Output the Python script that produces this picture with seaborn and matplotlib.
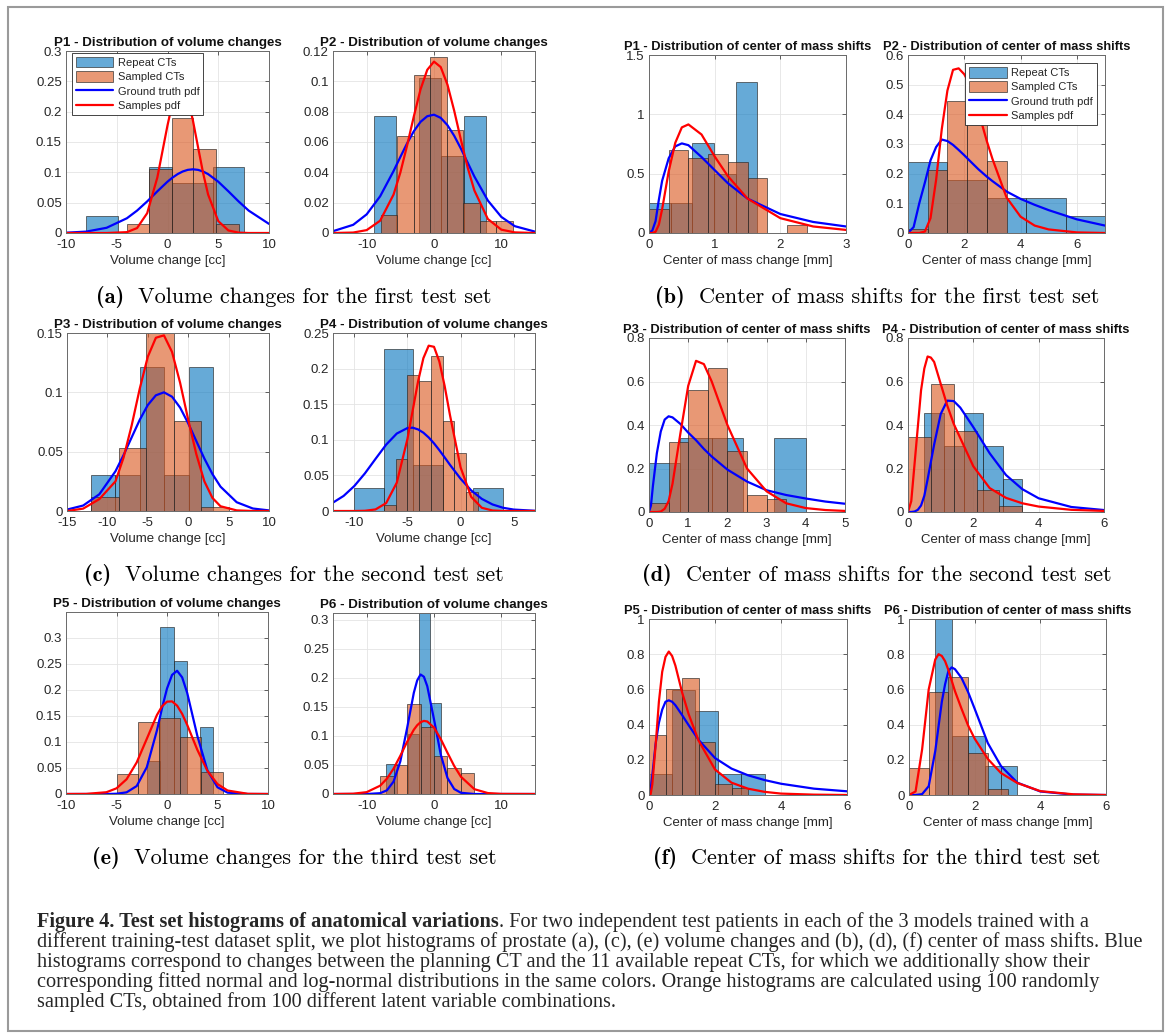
import numpy as np
import matplotlib
matplotlib.use('Agg')
import matplotlib.pyplot as plt
import seaborn as sns
from matplotlib.patches import Patch, Rectangle
from matplotlib.lines import Line2D
from matplotlib.ticker import FuncFormatter

W, H = 1168, 1036

# ---------------- data (densities) ----------------
# (a) P1 volume
a1_rep_edges = [-8.0, -4.9, -1.8, 0.4, 4.45, 7.5]
a1_rep_dens = [0.028, 0.0, 0.109, 0.082, 0.109]
a1_smp_edges = [-4.0, -1.8, 0.4, 2.55, 4.75, 7.0]
a1_smp_dens = [0.015, 0.106, 0.19, 0.138, 0.015]
a1_x = [-10, -8, -6, -4, -3, -2, -1, 0, 0.5, 1, 1.5, 2, 2.5, 3, 3.5, 4, 5, 6, 7, 8, 10]
a1_gt = [0.0005, 0.0023, 0.0086, 0.0243, 0.0369, 0.0521, 0.0687, 0.0846, 0.0914, 0.0971, 0.1014,
         0.1041, 0.105, 0.1041, 0.1014, 0.0971, 0.0846, 0.0687, 0.0521, 0.0369, 0.015]
a1_sp = [0, 0, 0, 0.0014, 0.0081, 0.0327, 0.0916, 0.1774, 0.2151, 0.238, 0.2402,
         0.2212, 0.1858, 0.1424, 0.0995, 0.0634, 0.0196, 0.0042, 0.0006, 0, 0]

# (a) P2 volume
a2_rep_edges = [-8.9, -5.6, -2.3, 1.05, 4.5, 7.75]
a2_rep_dens = [0.077, 0.0, 0.102, 0.051, 0.077]
a2_smp_edges = [-7.9, -5.45, -3.0, -0.55, 1.9, 4.35, 6.8, 9.25, 11.7]
a2_smp_dens = [0.012, 0.064, 0.104, 0.116, 0.068, 0.020, 0.008, 0.008]
a2_x = [-15, -12, -10, -8, -6, -5, -4, -3, -2, -1, 0, 1, 2, 3, 4, 5, 6, 8, 10, 12, 15]
a2_gt = [0.0012, 0.0054, 0.0123, 0.0242, 0.0409, 0.0501, 0.0591, 0.0671, 0.0733, 0.077, 0.078,
         0.0759, 0.0711, 0.0641, 0.0556, 0.0464, 0.0372, 0.0214, 0.0106, 0.0045, 0.0009]
a2_sp = [0, 0.0003, 0.0019, 0.0081, 0.0254, 0.0398, 0.0576, 0.0768, 0.0947, 0.1076, 0.113,
         0.1094, 0.0978, 0.0806, 0.0614, 0.0431, 0.028, 0.0092, 0.0022, 0.0004, 0]

# (b) P1 center of mass
b1_rep_edges = [0, 0.33, 0.66, 0.99, 1.32, 1.65]
b1_rep_dens = [0.25, 0.25, 0.755, 0.5, 1.27]
b1_smp_edges = [0, 0.3, 0.6, 0.9, 1.2, 1.5, 1.8, 2.1, 2.4]
b1_smp_dens = [0.2, 0.7, 0.633, 0.667, 0.6, 0.467, 0, 0.067]
b1_x = [0, 0.05, 0.1, 0.15, 0.2, 0.3, 0.4, 0.5, 0.6, 0.8, 1.0, 1.2, 1.5, 2.0, 2.5, 3.0]
b1_gt = [0, 0.02, 0.10, 0.28, 0.44, 0.63, 0.73, 0.755, 0.74, 0.64, 0.53, 0.42, 0.29, 0.16, 0.093, 0.055]
b1_sp = [0, 0, 0.01, 0.07, 0.20, 0.52, 0.76, 0.89, 0.915, 0.83, 0.645, 0.48, 0.29, 0.125, 0.055, 0.026]

# (b) P2 center of mass
b2_rep_edges = [0, 1.4, 2.8, 4.2, 5.6, 7.0]
b2_rep_dens = [0.238, 0.177, 0.119, 0.119, 0.058]
b2_smp_edges = [0, 0.7, 1.4, 2.1, 2.8, 3.5]
b2_smp_dens = [0.013, 0.213, 0.445, 0.516, 0.243]
b2_x = [0, 0.2, 0.4, 0.6, 0.8, 1.0, 1.2, 1.4, 1.6, 1.8, 2.0, 2.2, 2.5, 2.8, 3.0, 3.5, 4.0, 4.5, 5.0, 6.0, 7.0]
b2_gt = [0, 0.02, 0.10, 0.17, 0.245, 0.29, 0.315, 0.31, 0.297, 0.28, 0.262, 0.243, 0.215, 0.19, 0.175,
         0.14, 0.115, 0.095, 0.077, 0.046, 0.025]
b2_sp = [0, 0, 0, 0.005, 0.05, 0.18, 0.35, 0.48, 0.55, 0.555, 0.535, 0.5, 0.41, 0.31, 0.25,
         0.12, 0.055, 0.025, 0.012, 0.002, 0]

# (c) P3 volume
c1_rep_edges = [-12.0, -9.0, -6.0, -3.0, 0.05, 3.05]
c1_rep_dens = [0.0303, 0.0303, 0.121, 0.0303, 0.121]
c1_smp_edges = [-12.0, -8.6, -5.2, -1.8, 1.6, 5.0]
c1_smp_dens = [0.012, 0.053, 0.15, 0.076, 0.003]
c1_x = [-15, -13, -11, -9, -8, -7, -6, -5, -4, -3, -2, -1, 0, 1, 2, 3, 4, 6, 8, 10]
c1_gt = [0.0012, 0.0046, 0.0141, 0.0335, 0.0471, 0.062, 0.0768, 0.0893, 0.0975, 0.1, 0.0963,
         0.0871, 0.0739, 0.059, 0.0442, 0.0311, 0.0205, 0.0074, 0.0021, 0.0005]
c1_sp = [0, 0.002, 0.01, 0.025, 0.045, 0.072, 0.103, 0.13, 0.146, 0.148, 0.134,
         0.108, 0.077, 0.048, 0.025, 0.011, 0.004, 0.0005, 0, 0]

# (c) P4 volume
c2_rep_edges = [-10.05, -7.25, -4.45, -1.65, 1.15, 3.95]
c2_rep_dens = [0.0325, 0.227, 0.065, 0.0, 0.0325]
c2_smp_edges = [-7.2, -6.1, -5.0, -3.9, -2.8, -1.7, -0.6, 0.5, 1.6]
c2_smp_dens = [0.009, 0.073, 0.191, 0.182, 0.218, 0.127, 0.082, 0.027]
c2_x = [-12, -11, -10, -9, -8, -7, -6, -5, -4.5, -4, -3.5, -3, -2.5, -2, -1.5, -1, 0, 1, 2, 3, 4, 5, 7]
c2_gt = [0.0118, 0.0212, 0.035, 0.0528, 0.0732, 0.0932, 0.1088, 0.1165, 0.117, 0.1146, 0.11, 0.1033,
         0.095, 0.0855, 0.0753, 0.0649, 0.0453, 0.0289, 0.017, 0.0092, 0.0045, 0.002, 0.0003]
c2_sp = [0, 0, 0, 0.0003, 0.0022, 0.0111, 0.0398, 0.101, 0.1415, 0.1819, 0.2146, 0.2322,
         0.2306, 0.2101, 0.1757, 0.1349, 0.0613, 0.0198, 0.0045, 0.0007, 0, 0, 0]

# (d) P3 center of mass
d1_rep_edges = [0, 0.8, 1.6, 2.4, 3.2, 4.0]
d1_rep_dens = [0.227, 0.341, 0.341, 0.0, 0.341]
d1_smp_edges = [0, 0.5, 1.0, 1.5, 2.0, 2.5, 3.0, 3.5]
d1_smp_dens = [0.04, 0.32, 0.56, 0.66, 0.28, 0.08, 0.06]
d1_x = [0, 0.05, 0.1, 0.2, 0.3, 0.4, 0.5, 0.6, 0.8, 1.0, 1.2, 1.4, 1.6, 1.8, 2.0, 2.5, 3.0, 3.5, 4.0, 4.5, 5.0]
d1_gt = [0, 0.03, 0.12, 0.27, 0.37, 0.425, 0.44, 0.435, 0.405, 0.365, 0.33, 0.29, 0.255, 0.225, 0.195,
         0.14, 0.1, 0.078, 0.062, 0.048, 0.038]
d1_sp = [0, 0, 0, 0, 0.002, 0.015, 0.05, 0.13, 0.36, 0.58, 0.695, 0.68, 0.6, 0.5, 0.4,
         0.2, 0.095, 0.04, 0.018, 0.009, 0.005]

# (d) P4 center of mass
d2_rep_edges = [0.5, 1.1, 1.7, 2.3, 2.9, 3.5]
d2_rep_dens = [0.455, 0.303, 0.455, 0.303, 0.152]
d2_smp_edges = [0, 0.7, 1.4, 2.1, 2.8, 3.5]
d2_smp_dens = [0.343, 0.588, 0.373, 0.1, 0.028]
d2_x = [0, 0.1, 0.2, 0.3, 0.4, 0.5, 0.6, 0.7, 0.8, 1.0, 1.2, 1.4, 1.6, 2.0, 2.5, 3.0, 3.5, 4.0, 5.0, 6.0]
d2_gt = [0, 0, 0.002, 0.01, 0.03, 0.075, 0.15, 0.23, 0.31, 0.45, 0.512, 0.51, 0.48, 0.39,
         0.27, 0.17, 0.105, 0.063, 0.023, 0.009]
d2_sp = [0, 0.05, 0.22, 0.39, 0.56, 0.66, 0.715, 0.71, 0.69, 0.59, 0.49, 0.405, 0.34, 0.21,
         0.11, 0.065, 0.04, 0.025, 0.01, 0.005]

# (e) P5 volume
e1_rep_edges = [-1.95, -0.65, 0.65, 1.95, 3.25, 4.55]
e1_rep_dens = [0.064, 0.321, 0.256, 0.0, 0.129]
e1_smp_edges = [-5.0, -2.9, -0.8, 1.3, 3.4, 5.5]
e1_smp_dens = [0.039, 0.139, 0.147, 0.11, 0.043]
e1_x = [-10, -8, -6, -5, -4, -3, -2, -1, -0.5, 0, 0.5, 1, 1.5, 2, 3, 4, 5, 6, 8, 10]
e1_gt = [0, 0, 0, 0.0005, 0.0032, 0.0153, 0.0515, 0.1219, 0.1644, 0.2028, 0.229, 0.237,
         0.2243, 0.1944, 0.1121, 0.0454, 0.0129, 0.0026, 0, 0]
e1_sp = [0, 0.0002, 0.0034, 0.0109, 0.0284, 0.0607, 0.1061, 0.1518, 0.1684, 0.1776, 0.1781,
         0.1699, 0.1541, 0.1329, 0.0851, 0.0445, 0.0191, 0.0067, 0.0004, 0]

# (e) P6 volume
e2_rep_edges = [-7.1, -5.47, -3.84, -2.21, -0.58, 1.05]
e2_rep_dens = [0.052, 0.0, 0.104, 0.312, 0.157]
e2_smp_edges = [-8.0, -6.0, -4.0, -2.0, 0.0, 2.0, 4.0, 6.0]
e2_smp_dens = [0.031, 0.05, 0.156, 0.116, 0.066, 0.045, 0.036]
e2_x = [-15, -12, -10, -8, -7, -6, -5, -4, -3, -2.5, -2, -1.5, -1, 0, 1, 2, 3, 4, 6, 8, 10, 15]
e2_gt = [0, 0, 0, 0.0014, 0.0063, 0.0215, 0.0563, 0.1132, 0.1743, 0.1957, 0.206, 0.2021,
         0.1858, 0.1286, 0.0682, 0.0277, 0.0086, 0.0021, 0, 0, 0, 0]
e2_sp = [0, 0.0005, 0.0032, 0.0143, 0.0263, 0.0438, 0.0659, 0.0898, 0.1107, 0.1185, 0.1237, 0.126,
         0.125, 0.1145, 0.0948, 0.0711, 0.0483, 0.0297, 0.0083, 0.0016, 0.0002, 0]

# (f) P5 center of mass
f1_rep_edges = [0, 0.7, 1.4, 2.1, 2.8, 3.5]
f1_rep_dens = [0.119, 0.595, 0.478, 0.119, 0.119]
f1_smp_edges = [0, 0.5, 1.0, 1.5, 2.0, 2.5, 3.0]
f1_smp_dens = [0.342, 0.6, 0.664, 0.3, 0.062, 0.04]
f1_x = [0, 0.05, 0.1, 0.2, 0.3, 0.4, 0.5, 0.6, 0.7, 0.8, 1.0, 1.2, 1.5, 2.0, 2.5, 3.0, 3.5, 4.0, 5.0, 6.0]
f1_gt = [0, 0.03, 0.11, 0.29, 0.41, 0.485, 0.53, 0.538, 0.53, 0.51, 0.455, 0.397, 0.314, 0.21,
         0.15, 0.112, 0.085, 0.064, 0.036, 0.021]
f1_sp = [0, 0.005, 0.06, 0.28, 0.53, 0.7, 0.785, 0.815, 0.79, 0.735, 0.585, 0.46, 0.31, 0.145,
         0.07, 0.036, 0.018, 0.008, 0.002, 0]

# (f) P6 center of mass
f2_rep_edges = [0.8, 1.3, 1.8, 2.3, 2.8, 3.3]
f2_rep_dens = [1.0, 0.333, 0.333, 0.167, 0.167]
f2_smp_edges = [0, 0.6, 1.2, 1.8, 2.4, 3.0]
f2_smp_dens = [0.153, 0.584, 0.671, 0.236, 0.036]
f2_x = [0, 0.2, 0.4, 0.6, 0.8, 0.9, 1.0, 1.1, 1.2, 1.3, 1.4, 1.6, 1.8, 2.0, 2.4, 2.8, 3.3, 4.0, 5.0, 6.0]
f2_gt = [0, 0, 0.005, 0.05, 0.25, 0.39, 0.53, 0.63, 0.705, 0.725, 0.715, 0.665, 0.585, 0.49,
         0.295, 0.165, 0.07, 0.02, 0.002, 0]
f2_sp = [0, 0.02, 0.26, 0.6, 0.77, 0.8, 0.79, 0.76, 0.71, 0.65, 0.59, 0.49, 0.395, 0.32,
         0.205, 0.125, 0.068, 0.022, 0.004, 0]

legend_labels = ['Repeat CTs', 'Sampled CTs', 'Ground truth pdf', 'Samples pdf']
vol_label = 'Volume change [cc]'
com_label = 'Center of mass change [mm]'
vol_title = 'P{} - Distribution of volume changes'
com_title = 'P{} - Distribution of center of mass shifts'

sub_captions = [('(a)', 'Volume changes for the first test set'),
                ('(b)', 'Center of mass shifts for the first test set'),
                ('(c)', 'Volume changes for the second test set'),
                ('(d)', 'Center of mass shifts for the second test set'),
                ('(e)', 'Volume changes for the third test set'),
                ('(f)', 'Center of mass shifts for the third test set')]

cap_bold = 'Figure 4. Test set histograms of anatomical variations'
cap_lines = [
    '. For two independent test patients in each of the 3 models trained with a',
    'different training-test dataset split, we plot histograms of prostate (a), (c), (e) volume changes and (b), (d), (f) center of mass shifts. Blue',
    'histograms correspond to changes between the planning CT and the 11 available repeat CTs, for which we additionally show their',
    'corresponding fitted normal and log-normal distributions in the same colors. Orange histograms are calculated using 100 randomly',
    'sampled CTs, obtained from 100 different latent variable combinations.',
]

# ---------------- style ----------------
sns.set_style('white')
plt.rcParams['font.family'] = ['Liberation Sans', 'DejaVu Sans']
plt.rcParams['axes.unicode_minus'] = False

BLUE = (0.0, 0.447, 0.741)
ORANGE = (0.85, 0.325, 0.098)
EDGE = (0.15, 0.15, 0.15, 0.75)
INK = '#262626'

fig = plt.figure(figsize=(W / 100, H / 100), dpi=100)
fig.patch.set_facecolor('white')


def px(l, r, t, b):
    return [l / W, 1 - b / H, (r - l) / W, (b - t) / H]


# panel layout: (axes box in px, title, title size, xlabel, data..., xlim, xticks, ylim, yticks)
panels = [
    ((66, 269, 51, 233), vol_title.format(1), 9.6, vol_label, a1_rep_edges, a1_rep_dens, a1_smp_edges, a1_smp_dens,
     a1_x, a1_gt, a1_sp, (-10, 10), np.arange(-10, 11, 5), (0, 0.3), np.arange(0, 0.31, 0.05)),
    ((333, 535, 51, 233), vol_title.format(2), 9.6, vol_label, a2_rep_edges, a2_rep_dens, a2_smp_edges, a2_smp_dens,
     a2_x, a2_gt, a2_sp, (-15, 15), [-10, 0, 10], (0, 0.12), np.arange(0, 0.121, 0.02)),
    ((649, 846, 55, 233), com_title.format(1), 9.3, com_label, b1_rep_edges, b1_rep_dens, b1_smp_edges, b1_smp_dens,
     b1_x, b1_gt, b1_sp, (0, 3), [0, 1, 2, 3], (0, 1.5), [0, 0.5, 1, 1.5]),
    ((908, 1105, 55, 233), com_title.format(2), 9.3, com_label, b2_rep_edges, b2_rep_dens, b2_smp_edges, b2_smp_dens,
     b2_x, b2_gt, b2_sp, (0, 7), [0, 2, 4, 6], (0, 0.6), np.arange(0, 0.61, 0.1)),
    ((67, 269, 333, 511), vol_title.format(3), 9.6, vol_label, c1_rep_edges, c1_rep_dens, c1_smp_edges, c1_smp_dens,
     c1_x, c1_gt, c1_sp, (-15, 10), np.arange(-15, 11, 5), (0, 0.15), [0, 0.05, 0.1, 0.15]),
    ((333, 535, 333, 511), vol_title.format(4), 9.6, vol_label, c2_rep_edges, c2_rep_dens, c2_smp_edges, c2_smp_dens,
     c2_x, c2_gt, c2_sp, (-12, 7), [-10, -5, 0, 5], (0, 0.25), np.arange(0, 0.26, 0.05)),
    ((649, 845, 338, 512), com_title.format(3), 9.3, com_label, d1_rep_edges, d1_rep_dens, d1_smp_edges, d1_smp_dens,
     d1_x, d1_gt, d1_sp, (0, 5), np.arange(0, 6), (0, 0.8), np.arange(0, 0.81, 0.2)),
    ((908, 1104, 338, 512), com_title.format(4), 9.3, com_label, d2_rep_edges, d2_rep_dens, d2_smp_edges, d2_smp_dens,
     d2_x, d2_gt, d2_sp, (0, 6), [0, 2, 4, 6], (0, 0.8), np.arange(0, 0.81, 0.2)),
    ((66, 268, 612, 794), vol_title.format(5), 9.6, vol_label, e1_rep_edges, e1_rep_dens, e1_smp_edges, e1_smp_dens,
     e1_x, e1_gt, e1_sp, (-10, 10), np.arange(-10, 11, 5), (0, 0.35), np.arange(0, 0.31, 0.05)),
    ((333, 535, 613, 794), vol_title.format(6), 9.6, vol_label, e2_rep_edges, e2_rep_dens, e2_smp_edges, e2_smp_dens,
     e2_x, e2_gt, e2_sp, (-15, 15), [-10, 0, 10], (0, 0.312), np.arange(0, 0.31, 0.05)),
    ((649, 847, 619, 795), com_title.format(5), 9.3, com_label, f1_rep_edges, f1_rep_dens, f1_smp_edges, f1_smp_dens,
     f1_x, f1_gt, f1_sp, (0, 6), [0, 2, 4, 6], (0, 1), np.arange(0, 1.01, 0.2)),
    ((909, 1106, 619, 795), com_title.format(6), 9.3, com_label, f2_rep_edges, f2_rep_dens, f2_smp_edges, f2_smp_dens,
     f2_x, f2_gt, f2_sp, (0, 6), [0, 2, 4, 6], (0, 1), np.arange(0, 1.01, 0.2)),
]


def draw_hist(ax, edges, dens, color):
    edges = [float(e) for e in edges]
    mids = [(a + b) / 2 for a, b in zip(edges[:-1], edges[1:])]
    sns.histplot(x=mids, weights=list(dens), bins=edges, stat='count', color=color, alpha=0.6,
                 edgecolor=EDGE, linewidth=0.6, ax=ax)


fmt = FuncFormatter(lambda v, p: f'{v:g}')
axes = []
for (box, title, tsize, xlabel, re, rd, se, sd, x, gt, sp, xlim, xt, ylim, yt) in panels:
    ax = fig.add_axes(px(*box))
    draw_hist(ax, re, rd, BLUE)
    draw_hist(ax, se, sd, ORANGE)
    sns.lineplot(x=x, y=gt, color='#0000ff', linewidth=1.6, ax=ax)
    sns.lineplot(x=x, y=sp, color='#ff0000', linewidth=1.6, ax=ax)
    ax.set_xlim(*xlim)
    ax.set_ylim(*ylim)
    ax.set_xticks(xt)
    ax.set_yticks(yt)
    ax.xaxis.set_major_formatter(fmt)
    ax.yaxis.set_major_formatter(fmt)
    ax.set_ylabel('')
    ax.set_xlabel(xlabel, fontsize=9.5, color=INK, labelpad=3.5)
    ax.set_title(title, fontsize=tsize, fontweight='bold', color='#111111', pad=3.5)
    ax.grid(True, color='#e4e4e4', linewidth=0.6)
    ax.set_axisbelow(True)
    ax.tick_params(direction='in', length=3, width=0.5, top=True, right=True,
                   colors=INK, labelsize=9.5, pad=3)
    ax.tick_params(axis='x', pad=4)
    for s in ax.spines.values():
        s.set_color('#6a6a6a')
        s.set_linewidth(0.7)
    axes.append(ax)


def add_legend(ax, loc, anchor):
    handles = [Patch(facecolor=BLUE + (0.6,), edgecolor=EDGE, linewidth=0.6),
               Patch(facecolor=ORANGE + (0.6,), edgecolor=EDGE, linewidth=0.6),
               Line2D([], [], color='#0000ff', linewidth=1.6),
               Line2D([], [], color='#ff0000', linewidth=1.6)]
    leg = ax.legend(handles, legend_labels, loc=loc, bbox_to_anchor=anchor, fontsize=8,
                    frameon=True, fancybox=False, edgecolor=INK, framealpha=1,
                    borderpad=0.35, labelspacing=0.3, handlelength=3.4, handleheight=1.1,
                    handletextpad=0.4, borderaxespad=0)
    leg.get_frame().set_linewidth(0.6)
    for t in leg.get_texts():
        t.set_color(INK)


add_legend(axes[0], 'upper left', (0.028, 0.99))
add_legend(axes[3], 'upper right', (0.96, 0.955))

# ---------------- captions ----------------
renderer = fig.canvas.get_renderer()


def two_part(x0, y, first, second, fam1, fam2, size, gap, center=False):
    t1 = fig.text(0, 0, first, family=fam1, fontsize=size, va='baseline', color='black')
    t2 = fig.text(0, 0, second, family=fam2, fontsize=size, va='baseline', color='black')
    a = t1.get_window_extent(renderer).width
    b = t2.get_window_extent(renderer).width
    if center:
        x0 = x0 - (a + gap + b) / 2
    t1.set_position((x0 / W, 1 - y / H))
    t2.set_position(((x0 + a + gap) / W, 1 - y / H))


cap_centers = [(294, 303), (877, 303), (294, 581), (877, 581), (294, 864), (877, 864)]
for (tag, txt), (cx, cy) in zip(sub_captions, cap_centers):
    two_part(cx, cy, tag, txt, 'cmb10', 'cmr10', 16, 14, center=True)

# main caption, sized so the first line spans the frame width
probe_b = fig.text(0, 0, cap_bold, family='Liberation Serif', fontweight='bold', fontsize=12)
probe_r = fig.text(0, 0, cap_lines[0], family='Liberation Serif', fontsize=12)
w_line = probe_b.get_window_extent(renderer).width + probe_r.get_window_extent(renderer).width
probe_b.remove()
probe_r.remove()
cap_size = 12 * 1048 / w_line

x_cap = 37
y0 = 927
t1 = fig.text(x_cap / W, 1 - y0 / H, cap_bold, family='Liberation Serif', fontweight='bold',
              fontsize=cap_size, va='baseline')
wb = t1.get_window_extent(renderer).width
fig.text((x_cap + wb) / W, 1 - y0 / H, cap_lines[0], family='Liberation Serif',
         fontsize=cap_size, va='baseline')
for i, line in enumerate(cap_lines[1:], start=1):
    fig.text(x_cap / W, 1 - (y0 + 20 * i) / H, line, family='Liberation Serif',
             fontsize=cap_size, va='baseline')

# frame around the whole figure
fig.add_artist(Rectangle((8 / W, 1 - 1031 / H), (1163 - 8) / W, (1031 - 7) / H,
                         transform=fig.transFigure, fill=False, edgecolor='#9a9a9a', linewidth=1.5))

fig.savefig('out.png', dpi=100, facecolor='white')
